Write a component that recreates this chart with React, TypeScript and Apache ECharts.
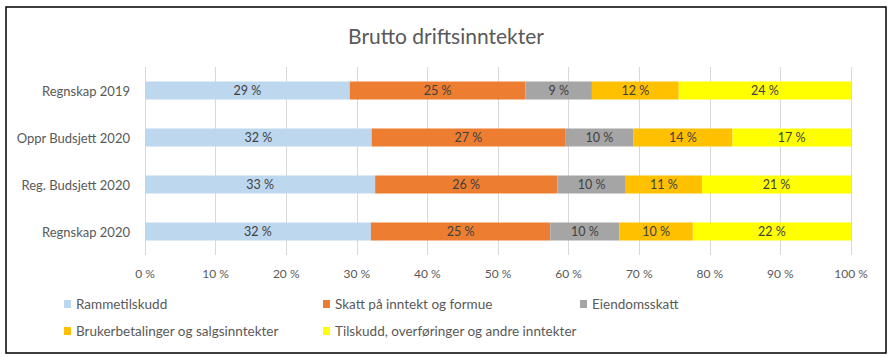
import React, { useEffect, useRef } from "react";
import * as echarts from "echarts";

const categories = ["Regnskap 2019", "Oppr Budsjett 2020", "Reg. Budsjett 2020", "Regnskap 2020"];
const seriesNames = [
  "Rammetilskudd",
  "Skatt på inntekt og formue",
  "Eiendomsskatt",
  "Brukerbetalinger og salgsinntekter",
  "Tilskudd, overføringer og andre inntekter",
];
const rammetilskudd = [29.0, 32.1, 32.6, 32.0];
const skatt = [24.9, 27.4, 25.8, 25.4];
const eiendomsskatt = [9.4, 9.7, 9.7, 9.8];
const brukerbetalinger = [12.3, 14.0, 10.8, 10.4];
const tilskudd = [24.4, 16.8, 21.1, 22.4];
const xTicks = [0, 10, 20, 30, 40, 50, 60, 70, 80, 90, 100];

const colors = ["#BDD7EE", "#ED7D31", "#A5A5A5", "#FFC000", "#FFFF00"];
const FONT = "Lato, 'Noto Sans', sans-serif";
const TXT = "#595959";

export default function App() {
  const ref = useRef<HTMLDivElement>(null);
  useEffect(() => {
    if (!ref.current) return;
    const chart = echarts.init(ref.current, undefined, { renderer: "svg" });
    const values = [rammetilskudd, skatt, eiendomsskatt, brukerbetalinger, tilskudd];
    const legendPos = [
      { left: 64, top: 297 },
      { left: 323, top: 297 },
      { left: 580, top: 297 },
      { left: 64, top: 324 },
      { left: 323, top: 324 },
    ];
    chart.setOption({
      animation: false,
      textStyle: { fontFamily: FONT },
      title: {
        text: "Brutto driftsinntekter",
        left: "center",
        top: 20,
        textStyle: { fontFamily: FONT, fontSize: 21, fontWeight: "normal", color: TXT },
      },
      graphic: [
        {
          type: "rect",
          shape: { x: 6, y: 7, width: 880, height: 346 },
          style: { fill: "none", stroke: "#000", lineWidth: 1.5 },
          silent: true,
        },
      ],
      legend: seriesNames.map((n, i) => ({
        data: [n],
        left: legendPos[i].left,
        top: legendPos[i].top,
        icon: "rect",
        itemWidth: 7,
        itemHeight: 8,
        padding: 0,
        textStyle: { fontFamily: FONT, fontSize: 13.5, color: TXT },
      })),
      grid: { left: 145, right: 41, top: 67, bottom: 102, containLabel: false },
      xAxis: {
        type: "value",
        min: 0,
        max: 100,
        interval: 10,
        axisLine: { show: false },
        axisTick: { show: false },
        splitLine: { lineStyle: { color: "#D9D9D9", width: 1 } },
        axisLabel: {
          margin: 12,
          fontFamily: FONT,
          fontSize: 12,
          color: TXT,
          formatter: (v: number) => (xTicks.includes(v) ? `${v} %` : ""),
        },
      },
      yAxis: {
        type: "category",
        data: categories,
        inverse: true,
        axisLine: { show: false },
        axisTick: { show: false },
        axisLabel: { margin: 15, fontFamily: FONT, fontSize: 13, color: TXT },
      },
      series: seriesNames.map((n, i) => ({
        name: n,
        type: "bar",
        stack: "total",
        barWidth: 18,
        data: values[i],
        itemStyle: { color: colors[i] },
        label: {
          show: true,
          position: "inside",
          fontFamily: FONT,
          fontSize: 12.5,
          color: "#404040",
          formatter: (p: any) => `${Math.round(p.value)} %`,
        },
      })),
    });
    return () => chart.dispose();
  }, []);
  return (
    <div
      ref={ref}
      style={{ position: "absolute", left: 0, top: 0, width: 892, height: 357, background: "#fff" }}
    />
  );
}
